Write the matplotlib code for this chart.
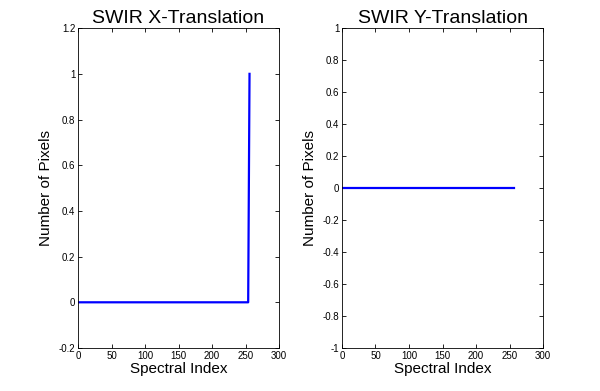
import numpy as np
import matplotlib
matplotlib.use("Agg")
import matplotlib.pyplot as plt
from matplotlib.ticker import FuncFormatter

plt.rcParams['font.family'] = ['Liberation Sans', 'DejaVu Sans']

# data
idx = np.arange(1, 257)
x_trans = np.zeros(256)
x_trans[254] = 0.5
x_trans[255] = 1.0
y_trans = np.zeros(256)

x_ticks = [0, 50, 100, 150, 200, 250, 300]
left_yticks = [-0.2, 0, 0.2, 0.4, 0.6, 0.8, 1, 1.2]
right_yticks = [-1, -0.8, -0.6, -0.4, -0.2, 0, 0.2, 0.4, 0.6, 0.8, 1]


def fmt(v, pos):
    s = "%g" % round(v, 6)
    return s


fig = plt.figure(figsize=(6, 3.91), dpi=100)
ax1 = fig.add_axes([0.13, 0.11, 0.335, 0.818])
ax2 = fig.add_axes([0.57, 0.11, 0.335, 0.818])

panels = [
    (ax1, x_trans, "SWIR X-Translation", (-0.2, 1.2), left_yticks),
    (ax2, y_trans, "SWIR Y-Translation", (-1, 1), right_yticks),
]

for ax, vals, title, ylim, yticks in panels:
    ax.plot(idx, vals, color='#0000ff', lw=1.6)
    ax.set_xlim(0, 300)
    ax.set_ylim(*ylim)
    ax.set_xticks(x_ticks)
    ax.set_yticks(yticks)
    ax.yaxis.set_major_formatter(FuncFormatter(fmt))
    ax.tick_params(direction='in', top=True, right=True, labelsize=7,
                   length=3, width=0.6, pad=2)
    for sp in ax.spines.values():
        sp.set_linewidth(0.6)
    ax.set_title(title, fontsize=14, pad=4)
    ax.set_xlabel("Spectral Index", fontsize=11, labelpad=1)
    ax.set_ylabel("Number of Pixels", fontsize=11, labelpad=4)

fig.savefig("out.png", dpi=100)
